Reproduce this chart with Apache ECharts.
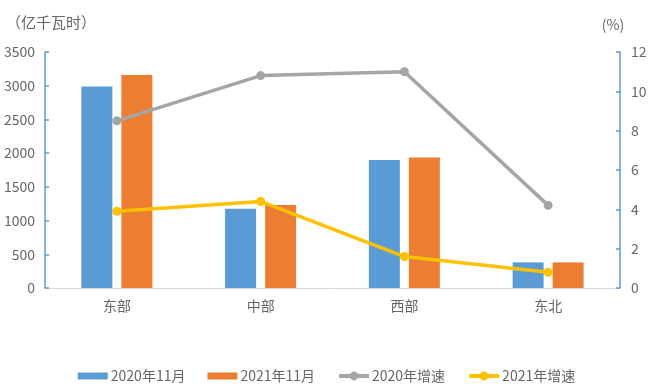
<!DOCTYPE html>
<html>
<head>
<meta charset="utf-8">
<script src="https://cdn.jsdelivr.net/npm/echarts@6/dist/echarts.min.js"></script>
<style>html,body{margin:0;padding:0;background:#fff}#c{width:653px;height:391px}</style>
</head>
<body>
<div id="c"></div>
<script>
var categories = ['东部', '中部', '西部', '东北'];
var elec2020 = [2990, 1175, 1900, 380];
var elec2021 = [3160, 1230, 1935, 380];
var growth2020 = [8.5, 10.8, 11.0, 4.2];
var growth2021 = [3.9, 4.4, 1.6, 0.8];
var seriesNames = ['2020年11月', '2021年11月', '2020年增速', '2021年增速'];

var FONT = '"Noto Sans CJK SC", "Noto Sans", sans-serif';
var labelColor = '#666666';
var chart = echarts.init(document.getElementById('c'));
chart.setOption({
  animation: false,
  textStyle: { fontFamily: FONT },
  grid: { left: 45, right: 33, top: 52, bottom: 103 },
  legend: {
    left: 'center', top: 364,
    itemWidth: 30, itemHeight: 11, itemGap: 22,
    lineStyle: { width: 4 },
    textStyle: { color: labelColor, fontSize: 14, fontFamily: FONT, padding: [0, 0, 0, -2] },
    data: [
      { name: seriesNames[0], icon: 'path://M0,2 L30,2 L30,9 L0,9 Z' },
      { name: seriesNames[1], icon: 'path://M0,2 L30,2 L30,9 L0,9 Z' },
      { name: seriesNames[2] },
      { name: seriesNames[3] }
    ]
  },
  xAxis: {
    type: 'category', data: categories,
    axisLine: { lineStyle: { color: '#d9d9d9', width: 1 } },
    axisTick: { show: false },
    axisLabel: { color: labelColor, fontSize: 14, margin: 11, fontFamily: FONT }
  },
  yAxis: [
    {
      type: 'value', min: 0, max: 3500, interval: 500,
      name: '（亿千瓦时）', nameLocation: 'end', nameGap: 22,
      nameTextStyle: { color: labelColor, fontSize: 15, align: 'center', padding: [0, 0, 0, 12], fontFamily: FONT },
      axisLine: { show: true, lineStyle: { color: '#5b9bd5', width: 1.5 } },
      axisTick: { show: true, inside: true, length: 4, lineStyle: { color: '#5b9bd5', width: 1.5 } },
      axisLabel: { color: labelColor, fontSize: 14, margin: 10, fontFamily: FONT,
        formatter: function (v) { return String(v); } },
      splitLine: { show: false }
    },
    {
      type: 'value', min: 0, max: 12, interval: 2,
      name: '(%)', nameLocation: 'end', nameGap: 20,
      nameTextStyle: { color: labelColor, fontSize: 14, align: 'center', padding: [0, 14, 0, 0], fontFamily: FONT },
      axisLine: { show: true, lineStyle: { color: '#5b9bd5', width: 1.5 } },
      axisTick: { show: true, inside: true, length: 4, lineStyle: { color: '#5b9bd5', width: 1.5 } },
      axisLabel: { color: labelColor, fontSize: 14, margin: 11, fontFamily: FONT },
      splitLine: { show: false }
    }
  ],
  series: [
    { name: seriesNames[0], type: 'bar', data: elec2020, barWidth: 31, barGap: '29%',
      itemStyle: { color: '#5b9bd5' } },
    { name: seriesNames[1], type: 'bar', data: elec2021, barWidth: 31,
      itemStyle: { color: '#ed7d31' } },
    { name: seriesNames[2], type: 'line', yAxisIndex: 1, data: growth2020,
      symbol: 'circle', symbolSize: 9,
      lineStyle: { color: '#a5a5a5', width: 3.5 }, itemStyle: { color: '#a5a5a5' } },
    { name: seriesNames[3], type: 'line', yAxisIndex: 1, data: growth2021,
      symbol: 'circle', symbolSize: 9,
      lineStyle: { color: '#ffc000', width: 3.5 }, itemStyle: { color: '#ffc000' } }
  ]
});
</script>
</body>
</html>
